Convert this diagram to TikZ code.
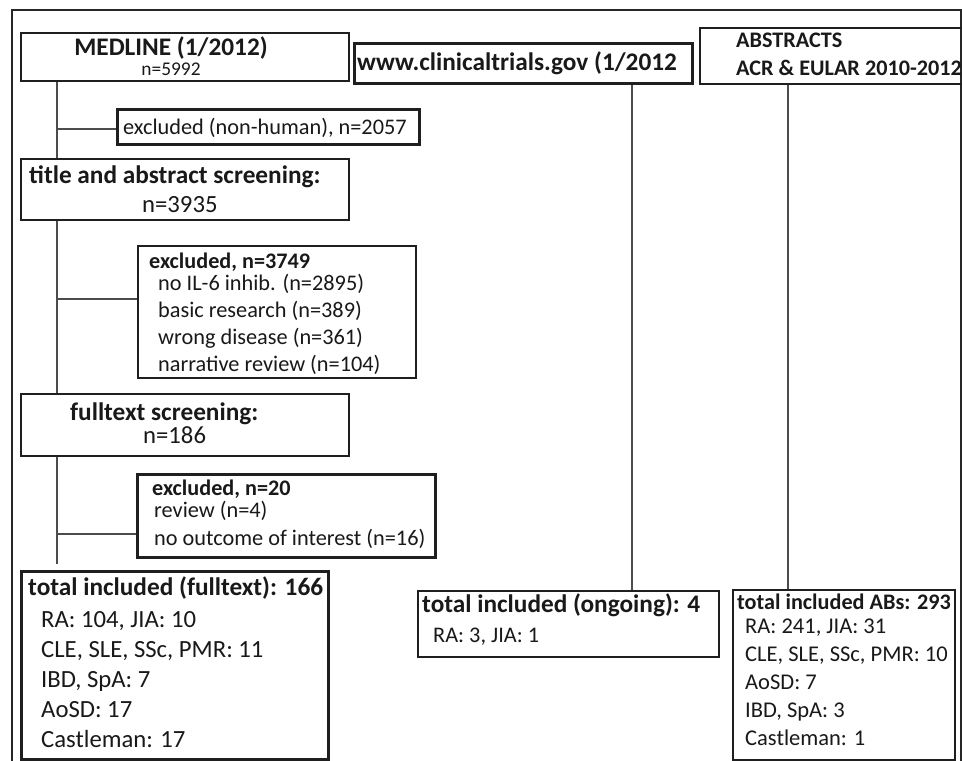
\documentclass[tikz,border=0pt]{standalone}
\usepackage{fontspec}
\setmainfont{Carlito}
\begin{document}
\begin{tikzpicture}[x=1pt, y=-1pt,
  box/.style = {draw=black!88, line width=1.8pt, rectangle, inner sep=0pt, anchor=north west},
  thickbox/.style = {box, line width=2.8pt},
  link/.style = {draw=black!70, line width=1.3pt},
  frame/.style = {draw=black!85, line width=1.6pt},
  txt/.style = {inner sep=0pt, anchor=base west, text=black!90},
  head/.style = {font=\bfseries\fontsize{25.3}{30}\selectfont},
  subhead/.style = {font=\bfseries\fontsize{22.2}{28}\selectfont},
  big/.style = {font=\fontsize{24.7}{30}\selectfont},
  small/.style = {font=\fontsize{22.3}{27.7}\selectfont}]

\useasboundingbox (0,0) rectangle (962,761);
\clip (0,0) rectangle (962,761);
\fill[white] (0,0) rectangle (962,761);
\draw[frame] (12,10) rectangle (961,790);

% MEDLINE column
\node[box, minimum width=328pt, minimum height=48pt] (medline) at (20,32) {};
\node[txt, head, anchor=base] (medlinehd) at (171,55) {MEDLINE (1/2012)};
\node[txt, anchor=base, font=\fontsize{19.4}{22}\selectfont] (medlinen) at (171,75) {n=5992};

\node[thickbox, minimum width=302pt, minimum height=35pt] (nonhuman) at (116,108) {};
\node[txt, small] (nonhumantxt) at (123,134) {excluded (non-human), n=2057};

\node[box, minimum width=328pt, minimum height=61pt] (titlebox) at (20,158) {};
\node[txt, head] (titlehd) at (29,183) {title and abstract screening:};
\node[txt, big] (titlen) at (142,212) {n=3935};

\node[box, minimum width=278pt, minimum height=132pt] (excl1) at (137,245) {};
\node[txt, subhead] (excl1hd) at (149,268) {excluded, n=3749};
\foreach \t [count=\i from 0] in {{no IL-6 inhib. (n=2895)}, {basic research (n=389)},
    {wrong disease (n=361)}, {narrative review (n=104)}}
  \node[txt, small] (excl1l\i) at (158,290+27.3*\i) {\t};

\node[box, minimum width=328pt, minimum height=62pt] (fullbox) at (20,393) {};
\node[txt, head] (fullhd) at (70,420) {fulltext screening:};
\node[txt, big] (fulln) at (143,443) {n=186};

\node[thickbox, minimum width=298pt, minimum height=83pt] (excl2) at (136,473) {};
\node[txt, subhead] (excl2hd) at (152,495) {excluded, n=20};
\foreach \t [count=\i from 0] in {{review (n=4)}, {no outcome of interest (n=16)}}
  \node[txt, small] (excl2l\i) at (154,517+28*\i) {\t};

\node[thickbox, minimum width=307pt, minimum height=188pt] (totalft) at (20,570) {};
\node[txt, head] (totalfthd) at (28,595) {total included (fulltext): 166};
\foreach \t [count=\i from 0] in {{RA: 104, JIA: 10}, {CLE, SLE, SSc, PMR: 11},
    {IBD, SpA: 7}, {AoSD: 17}, {Castleman: 17}}
  \node[txt, big] (totalftl\i) at (41,627+30.2*\i) {\t};

% clinicaltrials.gov column
\node[thickbox, minimum width=338pt, minimum height=40pt] (ctgov) at (353,42) {};
\node[txt, head] (ctgovhd) at (357,70) {www.clinicaltrials.gov (1/2012};

\node[box, minimum width=301pt, minimum height=66pt] (ongoing) at (417,590) {};
\node[txt, head] (ongoinghd) at (422,612) {total included (ongoing): 4};
\node[txt, small] (ongoingtxt) at (433,642) {RA: 3, JIA: 1};

% abstracts column
\node[box, minimum width=290pt, minimum height=56pt] (abstracts) at (699,27) {};
\node[txt, subhead] (abstractshd) at (736,47) {ABSTRACTS};
\node[txt, subhead] (abstractssub) at (736,75) {ACR \& EULAR 2010-2012};

\node[box, minimum width=222pt, minimum height=170pt] (totalab) at (732,589) {};
\node[txt, subhead] (totalabhd) at (737,609) {total included ABs: 293};
\foreach \t [count=\i from 0] in {{RA: 241, JIA: 31}, {CLE, SLE, SSc, PMR: 10},
    {AoSD: 7}, {IBD, SpA: 3}, {Castleman: 1}}
  \node[txt, font=\fontsize{22.5}{28}\selectfont] (totalabl\i) at (745,633+28*\i) {\t};

% connectors
\coordinate (spine) at (57,0);
\coordinate (ctline) at (632,0);
\coordinate (absline) at (788,0);
\coordinate (nonhumantap) at ([yshift=-2pt]nonhuman.west);
\coordinate (excl1tap) at ([yshift=13pt]excl1.west);
\coordinate (excl2tap) at ([yshift=-18pt]excl2.west);

\draw[link] (medline.south -| spine) -- (titlebox.north -| spine);
\draw[link] (titlebox.south -| spine) -- (fullbox.north -| spine);
\draw[link] (fullbox.south -| spine) -- ([yshift=6pt]totalft.north -| spine);
\draw[link] (nonhumantap -| spine) -- (nonhumantap);
\draw[link] (excl1tap -| spine) -- (excl1tap);
\draw[link] (excl2tap -| spine) -- (excl2tap);
\draw[link] (ctgov.south -| ctline) -- (ongoing.north -| ctline);
\draw[link] (abstracts.south -| absline) -- (totalab.north -| absline);
\end{tikzpicture}
\end{document}
